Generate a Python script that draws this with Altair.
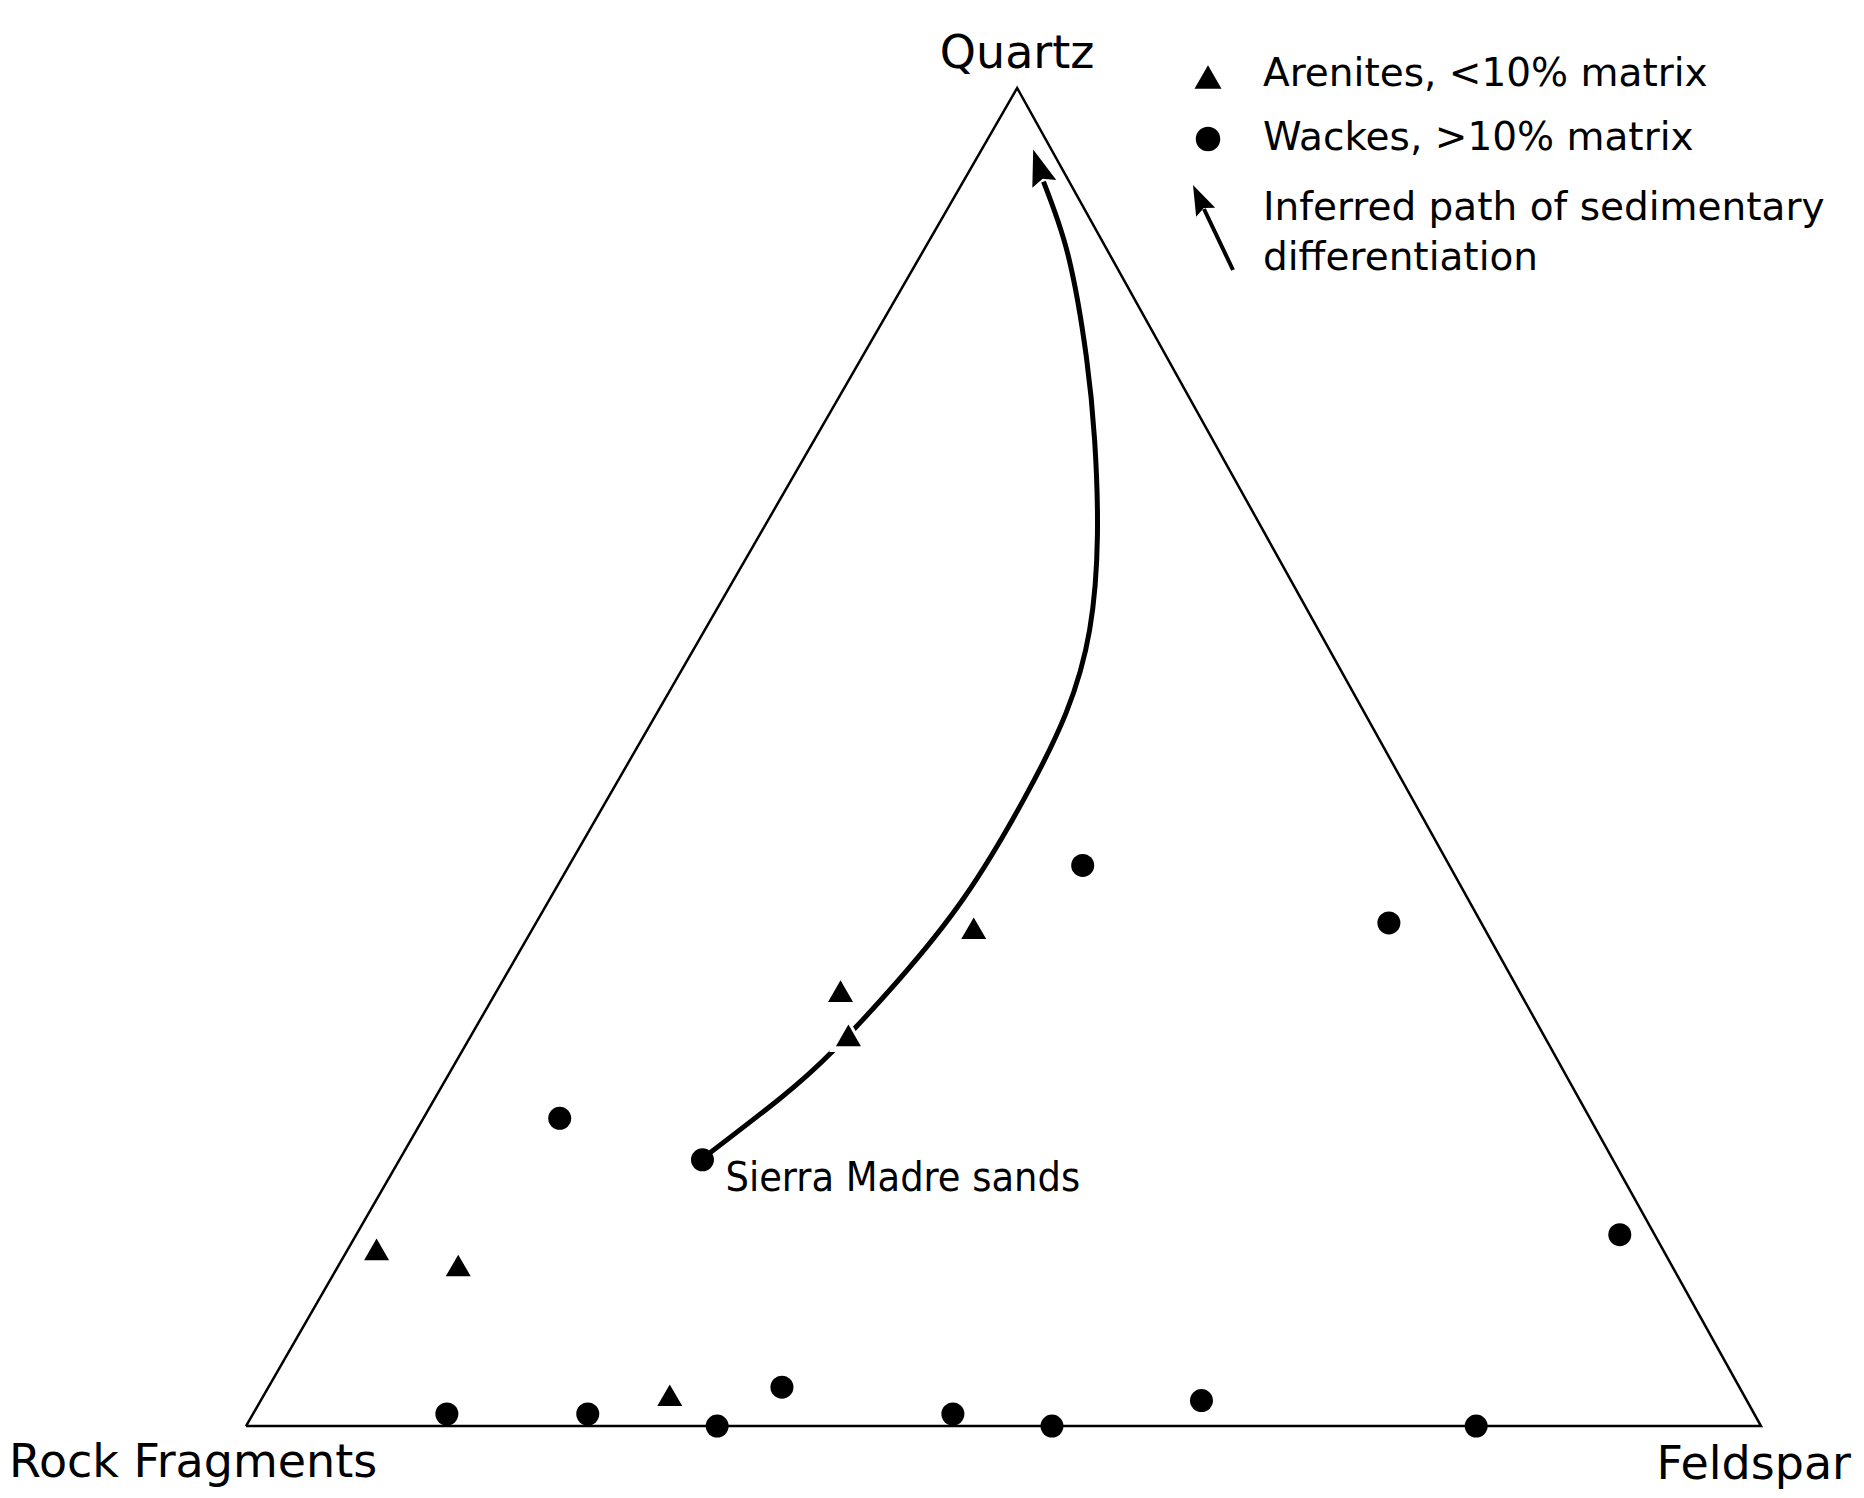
import altair as alt
import pandas as pd

# ---- values (percent: Quartz, Feldspar, Rock fragments) ----
arenite_Q = [37.2, 32.5, 29.2, 13.2, 12.0, 2.3]
arenite_F = [29.1, 22.7, 24.9, 1.9, 7.9, 26.8]
arenite_R = [33.7, 44.8, 45.9, 84.9, 80.1, 70.9]

wacke_Q = [41.9, 37.6, 23.0, 19.9, 14.3, 0.9, 0.9, 0.0, 2.9, 0.9, 0.0, 1.9, 0.0]
wacke_F = [33.9, 56.3, 9.0, 20.0, 83.4, 12.8, 22.1, 31.1, 33.9, 46.2, 53.2, 62.1, 81.2]
wacke_R = [24.2, 6.1, 68.0, 60.1, 2.3, 86.3, 77.0, 68.9, 63.2, 52.9, 46.8, 36.0, 18.8]
wacke_label = ["", "", "", "Sierra Madre sands", "", "", "", "", "", "", "", "", ""]

# inferred path of sedimentary differentiation (last entry = arrow tip)
path_Q = [19.9, 24.5, 28.1, 33.3, 39.5, 46.8, 53.3, 59.5, 66.6, 73.7, 79.9, 87.4, 93.0, 95.4]
path_F = [19.9, 22.8, 24.5, 26.1, 27.3, 27.5, 27.0, 25.4, 22.3, 18.5, 14.8, 9.8, 5.3, 3.4]
path_R = [60.2, 52.7, 47.4, 40.6, 33.2, 25.7, 19.7, 15.1, 11.1, 7.8, 5.3, 2.8, 1.7, 1.2]

vertex_names = ["Rock Fragments", "Feldspar", "Quartz"]
vertex_Q = [0, 0, 100]
vertex_F = [0, 100, 0]
vertex_R = [100, 0, 0]

legend_labels = ["Arenites, <10% matrix", "Wackes, >10% matrix",
                 "Inferred path of sedimentary", "differentiation"]

# ---- tables ----
arenites = pd.DataFrame({"Q": arenite_Q, "F": arenite_F, "R": arenite_R})
wackes = pd.DataFrame({"Q": wacke_Q, "F": wacke_F, "R": wacke_R, "label": wacke_label})
path = pd.DataFrame({"Q": path_Q, "F": path_F, "R": path_R, "i": list(range(len(path_Q)))})
n_path = len(path_Q)
vertices = pd.DataFrame({"name": vertex_names, "Q": vertex_Q, "F": vertex_F, "R": vertex_R})
outline = pd.DataFrame({
    "Q": vertex_Q + vertex_Q[:1], "F": vertex_F + vertex_F[:1], "R": vertex_R + vertex_R[:1],
    "i": list(range(len(vertex_Q) + 1)),
})

# ---- ternary projection (apex sits slightly right of the base midpoint, as drawn) ----
APEX = 0.509
def project(ch):
    return ch.transform_calculate(
        s="datum.Q + datum.F + datum.R",
    ).transform_calculate(
        x=f"100 * (datum.F + {APEX} * datum.Q) / datum.s",
        y="100 * datum.Q / datum.s",
    )

W, H = 1848, 1482
xs = alt.Scale(domain=[-15.71, 106.27], nice=False, zero=False)
ys = alt.Scale(domain=[-4.78, 105.98], nice=False, zero=False)
X = alt.X("x:Q", scale=xs, axis=None)
Y = alt.Y("y:Q", scale=ys, axis=None)

FONT = "DejaVu Sans"

tri = project(alt.Chart(outline)).mark_line(
    color="black", strokeWidth=2.5, strokeJoin="miter"
).encode(x=X, y=Y, order="i:Q")

curve = project(alt.Chart(path)).transform_filter(
    f"datum.i < {n_path - 1}"
).mark_line(
    color="black", strokeWidth=5, interpolate="natural", strokeCap="butt"
).encode(x=X, y=Y, order="i:Q")

ARROW = "M0,0L-0.7,2L0,1.7L0.7,2Z"
head = project(alt.Chart(path)).transform_filter(
    f"datum.i == {n_path - 1}"
).mark_point(
    shape=ARROW, size=1296, filled=True, color="black", opacity=1, angle=342, strokeWidth=0
).encode(x=X, y=Y)

halo = project(alt.Chart(arenites)).mark_point(
    shape="triangle-up", size=1500, filled=True, color="white", opacity=1, strokeWidth=0
).encode(x=X, y=Y)

tri_pts = project(alt.Chart(arenites)).mark_point(
    shape="triangle-up", size=625, filled=True, color="black", opacity=1, strokeWidth=0
).encode(x=X, y=Y)

circ_pts = project(alt.Chart(wackes)).mark_point(
    shape="circle", size=529, filled=True, color="black", opacity=1, strokeWidth=0
).encode(x=X, y=Y)

sierra = project(alt.Chart(wackes)).transform_filter("datum.label != ''").mark_text(
    align="left", baseline="alphabetic", dx=23, dy=31, fontSize=41,
    font="DejaVu Sans Condensed, sans-serif", color="black"
).encode(x=X, y=Y, text="label:N")

def vlabel(name, **kw):
    return project(alt.Chart(vertices)).transform_filter(
        alt.datum.name == name
    ).mark_text(font=FONT, fontSize=46, color="black", baseline="alphabetic", **kw).encode(
        x=X, y=Y, text="name:N"
    )

lab_q = vlabel("Quartz", align="center", dx=0, dy=-20)
lab_r = vlabel("Rock Fragments", align="left", dx=-237, dy=51)
lab_f = vlabel("Feldspar", align="right", dx=90, dy=53)

# ---- legend (drawn by hand, top right) ----
leg_src = alt.Chart(pd.DataFrame({"k": [0]}))
LX_SYM, LX_TXT = 1200, 1255
leg_tri = leg_src.mark_point(shape="triangle-up", size=729, filled=True, color="black",
                             opacity=1, strokeWidth=0).encode(x=alt.value(LX_SYM), y=alt.value(69))
leg_circ = leg_src.mark_point(shape="circle", size=600, filled=True, color="black",
                              opacity=1, strokeWidth=0).encode(x=alt.value(LX_SYM), y=alt.value(131))
leg_shaft = leg_src.mark_rule(color="black", strokeWidth=4).encode(
    x=alt.value(1225), y=alt.value(262), x2=alt.value(1196), y2=alt.value(201))
leg_head = leg_src.mark_point(shape=ARROW, size=900, filled=True, color="black", opacity=1,
                              angle=335, strokeWidth=0).encode(x=alt.value(1185), y=alt.value(177))

def ltext(t, ypos):
    return leg_src.mark_text(align="left", baseline="alphabetic", font=FONT, fontSize=39,
                             color="black", text=t).encode(x=alt.value(LX_TXT), y=alt.value(ypos))

leg_t = [ltext(legend_labels[0], 78), ltext(legend_labels[1], 142),
         ltext(legend_labels[2], 212), ltext(legend_labels[3], 262)]

chart = alt.layer(
    tri, curve, head, halo, tri_pts, circ_pts, sierra, lab_q, lab_r, lab_f,
    leg_tri, leg_circ, leg_shaft, leg_head, *leg_t
).properties(
    width=W, height=H, padding=0,
    autosize=alt.AutoSizeParams(type="none"),
    background="white",
).configure_view(stroke=None)

chart.save("out.html", embed_options={"renderer": "svg", "actions": False})
